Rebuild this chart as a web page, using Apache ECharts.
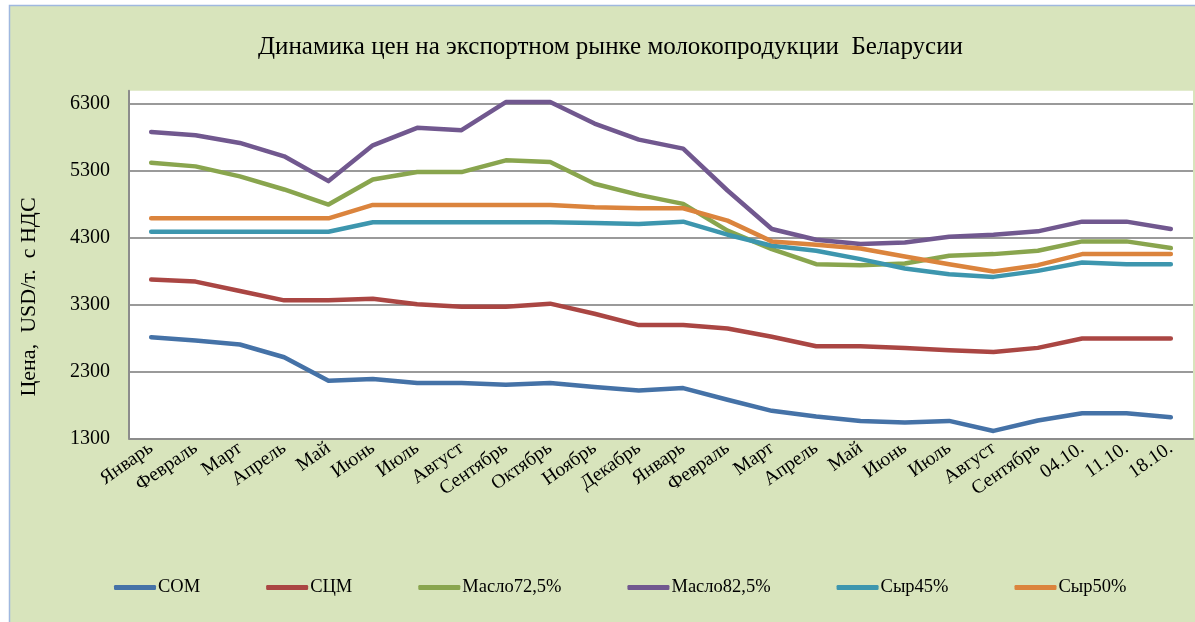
<!DOCTYPE html>
<html><head><meta charset="utf-8">
<script src="https://cdn.jsdelivr.net/npm/echarts@6/dist/echarts.min.js"></script>
<style>html,body{margin:0;padding:0;background:#fff}#c{width:1195px;height:622px}</style>
</head><body><div id="c"></div>
<script>
const categories = ['Январь','Февраль','Март','Апрель','Май','Июнь','Июль','Август','Сентябрь','Октябрь','Ноябрь','Декабрь','Январь','Февраль','Март','Апрель','Май','Июнь','Июль','Август','Сентябрь','04.10.','11.10.','18.10.'];
const som    = [2810,2760,2700,2510,2160,2185,2125,2125,2100,2125,2065,2015,2050,1875,1710,1625,1560,1535,1560,1410,1565,1675,1675,1615];
const scm    = [3670,3640,3500,3360,3360,3385,3300,3265,3265,3310,3160,2990,2990,2940,2815,2675,2675,2650,2615,2590,2650,2790,2790,2790];
const maslo72 = [5415,5360,5210,5015,4790,5165,5275,5275,5450,5425,5100,4935,4800,4400,4125,3900,3885,3910,4025,4050,4100,4240,4240,4140];
const maslo82 = [5875,5825,5710,5510,5140,5675,5935,5900,6320,6320,6000,5760,5625,5000,4425,4265,4200,4225,4310,4340,4390,4535,4535,4425];
const syr45  = [4385,4385,4385,4385,4385,4525,4525,4525,4525,4525,4515,4500,4535,4340,4175,4100,3975,3835,3750,3710,3800,3925,3900,3900];
const syr50  = [4585,4585,4585,4585,4585,4785,4785,4785,4785,4785,4750,4735,4735,4550,4240,4190,4135,4015,3900,3790,3885,4050,4050,4050];
const seriesNames = ['СОМ','СЦМ','Масло72,5%','Масло82,5%','Сыр45%','Сыр50%'];
const seriesData = [som, scm, maslo72, maslo82, syr45, syr50];
const colors = ['#4572A7','#AA4643','#89A54E','#71588F','#3D96AE','#DB843D'];
const FONT = '"Liberation Serif","Times New Roman",serif';

const chart = echarts.init(document.getElementById('c'), null, {renderer:'canvas'});
chart.setOption({
  backgroundColor: '#ffffff',
  animation: false,
  color: colors,
  graphic: [
    {type:'rect', z:-10, silent:true, shape:{x:9.5,y:5.5,width:1190,height:620}, style:{fill:'#d8e4bc', stroke:'#9fb8df', lineWidth:1.5}},
    {type:'text', z:10, x:29, y:297, rotation:Math.PI/2,
     style:{text:'Цена,  USD/т.  с НДС', font:'22px '+FONT, fill:'#000', align:'center', verticalAlign:'middle'}}
  ],
  title: {
    text: 'Динамика цен на экспортном рынке молокопродукции  Беларусии',
    left: 253, top: 30,
    textStyle: {fontFamily: FONT, fontSize: 25, fontWeight: 'normal', color: '#000'}
  },
  legend: {
    bottom: 20, left: 109,
    itemWidth: 42, itemHeight: 5, itemGap: 66,
    icon: 'roundRect',
    textStyle: {fontFamily: FONT, fontSize: 18.5, color: '#000', padding:[0,0,0,-3]},
    data: seriesNames
  },
  grid: {left:129, right:2, top:90.7, bottom:183.7, show:true, backgroundColor:'#ffffff', borderWidth:0},
  xAxis: {
    type:'category', data:categories, boundaryGap:true,
    axisLine:{lineStyle:{color:'#8c8c8c', width:2}},
    axisTick:{show:false},
    axisLabel:{rotate:35, fontFamily:FONT, fontSize:19.5, color:'#000', margin:8, interval:0}
  },
  yAxis: {
    type:'value', min:1300, max:6490, interval:1000,
    axisLine:{show:true, lineStyle:{color:'#8c8c8c', width:2}},
    axisTick:{show:false},
    axisLabel:{fontFamily:FONT, fontSize:20, color:'#000', margin:19, showMaxLabel:false, formatter:(v)=>String(v)},
    splitLine:{show:true, showMaxLine:false, lineStyle:{color:'#9a9a9a', width:2}}
  },
  series: seriesNames.map((n,i)=>({
    name:n, type:'line', data:seriesData[i], symbol:'none',
    lineStyle:{width:4.5, color:colors[i], cap:'round', join:'round'},
    itemStyle:{color:colors[i]}
  }))
});
</script></body></html>
